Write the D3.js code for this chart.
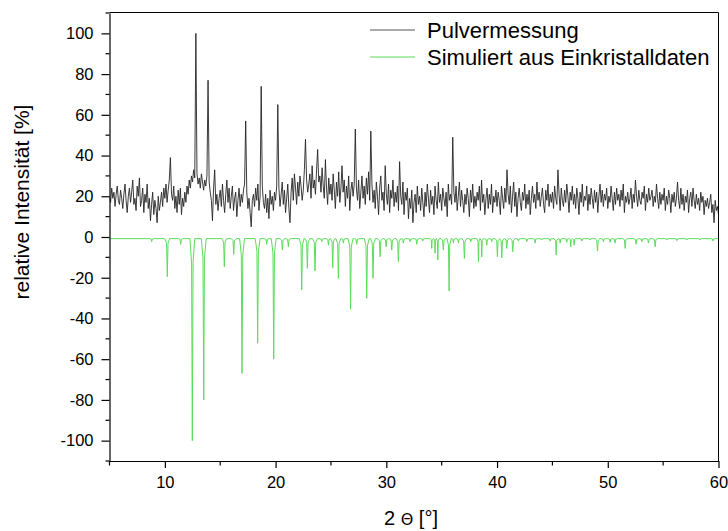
<!DOCTYPE html>
<html>
<head>
<meta charset="utf-8">
<script src="https://cdn.jsdelivr.net/npm/d3@7"></script>
<style>
  html, body { margin: 0; padding: 0; background: #fff; }
  svg { display: block; font-family: "Liberation Sans", Arial, sans-serif; }
</style>
</head>
<body>
<svg id="chart" width="728" height="531"></svg>
<script>
// ---- Data ----
const seriesNames = ["Pulvermessung", "Simuliert aus Einkristalldaten"];
const xTickValues = [10, 20, 30, 40, 50, 60];
const yTickValues = [-100, -80, -60, -40, -20, 0, 20, 40, 60, 80, 100];

// Measured powder pattern, 2θ from 5.0° to 60.0° in 0.1° steps (one row per degree)
const measStart = 5.0;
const measStep = 0.1;
const measured = [
  20,17,24,19,22,15,21,25,18,16,
  23,19,14,21,26,18,12,20,24,17,
  22,28,16,19,13,25,20,29,15,18,
  24,12,21,17,26,14,19,8,16,22,
  11,18,14,7,20,13,17,22,15,24,
  19,26,17,23,28,39,21,18,25,14,
  20,12,23,16,24,11,19,15,22,17,
  25,21,28,24,30,27,33,29,100,31,
  26,29,24,31,27,23,28,25,30,77,
  27,22,18,8,24,33,16,21,13,19,
  23,15,26,18,12,21,28,17,24,14,
  20,25,13,19,22,10,18,24,15,21,
  17,23,26,57,22,14,19,12,5,18,
  21,15,24,18,26,13,20,74,25,17,
  14,21,12,19,9,23,16,20,13,22,
  18,25,65,24,15,21,27,16,23,12,
  19,26,14,7,22,29,18,31,24,16,
  27,20,30,25,18,23,33,48,28,22,
  26,31,19,35,24,28,21,33,43,27,
  30,22,34,25,19,38,24,16,29,21,
  26,18,31,23,14,27,20,32,17,24,
  35,22,28,15,25,19,30,13,23,27,
  20,26,53,24,18,28,14,22,30,19,
  25,16,29,21,32,18,52,26,17,23,
  14,27,20,11,24,30,18,22,13,35,
  21,16,26,12,23,19,28,15,22,17,
  25,13,37,20,16,27,11,22,18,24,
  9,19,14,23,7,17,21,12,25,16,
  20,13,24,17,10,22,15,26,19,12,
  23,16,20,11,25,18,14,27,17,21,
  13,24,19,15,22,10,26,18,21,16,
  49,22,17,25,13,20,27,15,23,18,
  12,21,16,24,19,10,23,17,26,14,
  20,15,22,18,25,13,28,17,21,11,
  19,24,14,21,16,26,12,20,17,23,
  15,22,18,11,25,19,14,24,17,33,
  21,16,25,12,20,27,15,22,10,19,
  24,17,13,22,18,26,14,21,16,23,
  11,19,25,17,21,14,27,18,22,15,
  20,24,16,12,23,18,26,15,21,17,
  22,14,25,19,16,33,21,13,24,18,
  15,23,17,26,20,12,22,18,25,16,
  21,14,24,19,11,22,17,26,15,20,
  18,25,13,21,16,24,19,14,23,17,
  22,12,20,26,17,23,15,21,18,24,
  14,20,17,25,19,13,22,16,24,18,
  21,15,23,18,26,12,20,17,22,16,
  19,24,14,21,17,28,20,15,23,18,
  16,22,19,25,13,21,17,24,18,20,
  23,15,20,17,26,19,14,22,16,21,
  18,24,13,20,16,23,19,12,21,17,
  22,15,19,27,18,14,24,16,21,13,
  20,17,23,12,19,22,15,24,18,14,
  21,16,19,13,22,17,20,11,18,15,
  19,14,17,21,12,16,7,18,13,15,
  11
];

// Simulated pattern (plotted negative): reflection positions (2θ) and intensities
const simBaseline = -0.8;
const simPositions = [
  8.81, 10.22, 11.43, 12.48, 13.51, 15.37, 16.22, 16.97, 18.38, 19.20,
  19.83, 20.61, 21.15, 22.36, 22.87, 23.56, 24.17, 24.77, 25.16, 25.67,
  26.12, 26.77, 27.33, 28.23, 28.80, 29.44, 29.98, 30.49, 31.09, 31.54,
  32.15, 32.75, 33.29, 34.10, 34.40, 34.65, 35.15, 35.67, 36.06, 36.51,
  37.05, 37.63, 38.32, 38.62, 39.07, 39.52, 40.03, 40.43, 40.88, 41.42,
  41.93, 42.69, 43.44, 44.04, 44.80, 45.34, 45.70, 46.30, 46.66, 46.96,
  47.66, 48.40, 49.07, 49.61, 50.21, 50.66, 51.57, 52.56, 53.08, 53.67,
  54.28, 55.33, 56.24, 57.14, 58.34, 59.50
];
const simIntensities = [
  -2.3, -19.5, -3.6, -100, -80, -14.6, -8.5, -67, -52.2, -3.6,
  -60, -6.4, -4.8, -26, -15.4, -16.7, -2.3, -4, -15.1, -20.3,
  -3, -35.4, -3.6, -30.1, -20.3, -9.7, -4.8, -6.4, -12.1, -3,
  -2.3, -3.6, -2, -5.6, -8, -11.3, -6.4, -26.5, -3, -3,
  -10.5, -2.3, -12.1, -9.7, -4, -2.3, -9.7, -10.2, -5.6, -7.2,
  -2, -2.3, -3, -1.5, -2, -8.8, -3, -2.6, -4.8, -4,
  -2, -1.5, -6.9, -2.3, -2.6, -3, -5.6, -3.6, -2.3, -3,
  -4.8, -1.5, -1.8, -1.5, -1.5, -2
];

(function () {
// ---- Layout ----
const svg = d3.select("#chart");
const pLeft = 109.5, pRight = 718.5, pTop = 12.5, pBottom = 461;
const x = d3.scaleLinear().domain([5, 60]).range([pLeft, pRight]);
const y = d3.scaleLinear().domain([-110, 110]).range([pBottom, pTop + 0.5]);

svg.append("defs").append("clipPath").attr("id", "plotclip")
  .append("rect").attr("x", pLeft).attr("y", pTop).attr("width", pRight - pLeft).attr("height", pBottom - pTop);

// measured points
const measPts = measured.map((v, i) => [measStart + i * measStep, v]);

// simulated points: each reflection drawn as a sharp dip from the baseline
const simPts = [[5, simBaseline]];
simPositions.forEach((p, i) => {
  const prev = i > 0 ? simPositions[i - 1] : 5;
  const next = i < simPositions.length - 1 ? simPositions[i + 1] : 60;
  const hw = Math.min(0.22, (p - prev) / 2, (next - p) / 2);
  const h = simIntensities[i];
  simPts.push([p - hw, simBaseline]);
  simPts.push([p - hw * 0.3, simBaseline + (h - simBaseline) * 0.12]);
  simPts.push([p, h]);
  simPts.push([p + hw * 0.3, simBaseline + (h - simBaseline) * 0.12]);
  simPts.push([p + hw, simBaseline]);
});
simPts.push([60, simBaseline]);

const line = d3.line().x(d => x(d[0])).y(d => y(d[1]));

const plot = svg.append("g").attr("clip-path", "url(#plotclip)");
plot.append("path").datum(simPts)
  .attr("fill", "none").attr("stroke", "#5bdc5b").attr("stroke-width", 1)
  .attr("d", line);
plot.append("path").datum(measPts)
  .attr("fill", "none").attr("stroke", "#262626").attr("stroke-width", 0.9)
  .attr("stroke-linejoin", "round")
  .attr("d", line);

// frame (top & right)
svg.append("line").attr("x1", pLeft).attr("x2", pRight).attr("y1", pTop).attr("y2", pTop)
  .attr("stroke", "#000").attr("stroke-width", 1);
svg.append("line").attr("x1", pRight).attr("x2", pRight).attr("y1", pTop).attr("y2", pBottom)
  .attr("stroke", "#000").attr("stroke-width", 1);

// Y axis
const yAxis = svg.append("g").attr("transform", `translate(${pLeft},0)`)
  .call(d3.axisLeft(y).tickValues(yTickValues).tickSizeInner(8).tickSizeOuter(0).tickPadding(8)
    .tickFormat(d => d < 0 ? "-" + Math.abs(d) : String(d)));
yAxis.select(".domain").attr("stroke-width", 1.2);
yAxis.selectAll(".tick line").attr("stroke-width", 1.2);
yAxis.selectAll("text").attr("font-size", 16.5).attr("fill", "#000")
  .attr("font-family", "Liberation Sans, Arial, sans-serif");
const yMinor = d3.range(-110, 111, 20);
svg.append("g").selectAll("line").data(yMinor).join("line")
  .attr("x1", pLeft - 4).attr("x2", pLeft).attr("y1", d => y(d)).attr("y2", d => y(d))
  .attr("stroke", "#000").attr("stroke-width", 1.2);

// X axis
const xAxis = svg.append("g").attr("transform", `translate(0,${pBottom})`)
  .call(d3.axisBottom(x).tickValues(xTickValues).tickSizeInner(7).tickSizeOuter(0).tickPadding(8));
xAxis.select(".domain").attr("stroke-width", 1.2);
xAxis.selectAll(".tick line").attr("stroke-width", 1.2);
xAxis.selectAll("text").attr("font-size", 16.5).attr("fill", "#000")
  .attr("font-family", "Liberation Sans, Arial, sans-serif");
const xMinor = d3.range(5, 60, 10);
svg.append("g").selectAll("line").data(xMinor).join("line")
  .attr("x1", d => x(d)).attr("x2", d => x(d)).attr("y1", pBottom).attr("y2", pBottom + 4.5)
  .attr("stroke", "#000").attr("stroke-width", 1.2);

// Axis titles
const xt = svg.append("text").attr("x", 411).attr("y", 525).attr("text-anchor", "middle")
  .attr("font-size", 20).attr("fill", "#000");
xt.append("tspan").text("2 ");
xt.append("tspan").attr("font-size", 16).attr("font-family", "DejaVu Sans, sans-serif").text("Θ");
xt.append("tspan").text(" [°]");

svg.append("text").attr("transform", "translate(29,202) rotate(-90)")
  .attr("text-anchor", "middle").attr("font-size", 21).attr("fill", "#000")
  .text("relative Intensität [%]");

// Legend
const legendColors = ["#555555", "#5bdc5b"];
const legendY = [30, 57];
seriesNames.forEach((name, i) => {
  svg.append("line").attr("x1", 370).attr("x2", 415).attr("y1", legendY[i]).attr("y2", legendY[i])
    .attr("stroke", legendColors[i]).attr("stroke-width", 1);
  svg.append("text").attr("x", 427).attr("y", legendY[i] + 7.5)
    .attr("font-size", 22).attr("fill", "#000").text(name);
});
})();
</script>
</body>
</html>
